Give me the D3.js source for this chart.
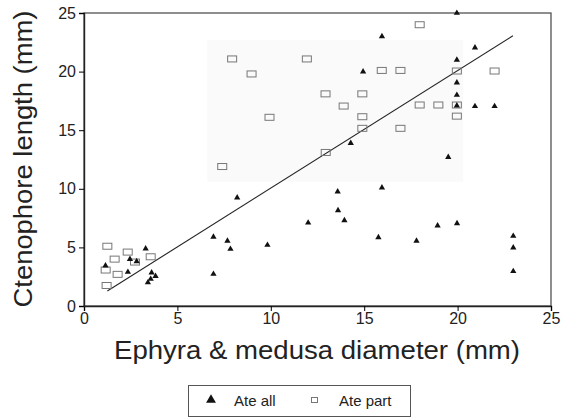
<!DOCTYPE html>
<html>
<head>
<meta charset="utf-8">
<script src="https://cdn.jsdelivr.net/npm/d3@7"></script>
<style>
  body { margin: 0; background: #fff; }
  svg { display: block; font-family: 'Liberation Sans', Arial, sans-serif; }
</style>
</head>
<body>
<svg id="chart"></svg>
<script>
// Ate all (filled triangles)
const ateAllX = [3.3, 2.46, 2.82, 1.15, 2.35, 3.62, 3.83, 3.57, 3.42,
  6.93, 7.68, 7.84, 6.93, 9.82, 8.2, 12.0,
  19.5, 13.58, 15.95, 13.6, 13.94, 15.76, 17.8, 18.93, 19.97, 22.98, 22.98, 22.98,
  14.94, 14.28, 19.96, 15.95, 20.93, 19.96, 19.96, 19.96, 19.96, 20.93, 21.98]
const ateAllY = [4.9, 4.0, 3.8, 3.45, 2.9, 2.85, 2.55, 2.3, 2.0,
  5.9, 5.55, 4.86, 2.73, 5.2, 9.24, 7.1,
  12.7, 9.75, 10.1, 8.16, 7.3, 5.86, 5.55, 6.85, 7.05, 5.97, 4.98, 2.96,
  20.0, 13.9, 25.0, 23.0, 22.04, 21.0, 19.05, 18.0, 17.1, 17.04, 17.04]

// Ate part (open squares)
const atePartX = [1.25, 1.64, 2.34, 1.16, 1.8, 1.21, 2.73, 3.57,
  7.4, 7.93, 8.97, 9.93, 11.93, 12.93, 13.9, 14.9, 14.9, 14.9, 12.94,
  17.97, 15.94, 16.94, 19.96, 21.98, 17.97, 18.97, 19.96, 19.96, 16.94]
const atePartY = [5.1, 4.0, 4.6, 3.07, 2.7, 1.75, 3.75, 4.2,
  11.9, 21.08, 19.8, 16.1, 21.08, 18.1, 17.06, 18.1, 16.15, 15.16, 13.1,
  24.0, 20.1, 20.1, 20.05, 20.05, 17.15, 17.15, 17.15, 16.2, 15.16]

// fitted regression line end points
const fitX = [1.25, 22.96]
const fitY = [1.28, 23.06]

const xTicks = [0, 5, 10, 15, 20, 25]
const yTicks = [0, 5, 10, 15, 20, 25]

const width = 566
const height = 418
const margin = { top: 13, right: 15, bottom: 112, left: 84 }

const svg = d3.select('#chart')
  .attr('width', width)
  .attr('height', height)

const x = d3.scaleLinear()
  .domain([0, 25])
  .range([margin.left, width - margin.right])

const y = d3.scaleLinear()
  .domain([0, 25])
  .range([height - margin.bottom, margin.top])

// faint scan shading behind upper cluster
svg.append('rect')
  .attr('x', x(6.6))
  .attr('y', y(22.7))
  .attr('width', x(20.3) - x(6.6))
  .attr('height', y(10.6) - y(22.7))
  .attr('fill', '#fafafa')

// frame
svg.append('rect')
  .attr('x', x(0))
  .attr('y', y(25))
  .attr('width', x(25) - x(0))
  .attr('height', y(0) - y(25))
  .attr('fill', 'none')
  .attr('stroke', '#444')
  .attr('stroke-width', 1.2)

const xAxis = svg.append('g')
  .attr('transform', `translate(0,${y(0)})`)
  .call(d3.axisBottom(x).tickValues(xTicks).tickSize(5).tickPadding(2))
xAxis.select('.domain').attr('stroke', '#222').attr('stroke-width', 1.4)
xAxis.selectAll('text').attr('font-size', '16px').attr('fill', '#222')
  .attr('font-family', "'Liberation Sans', Arial, sans-serif")

const yAxis = svg.append('g')
  .attr('transform', `translate(${x(0)},0)`)
  .call(d3.axisLeft(y).tickValues(yTicks).tickSize(5).tickPadding(3))
yAxis.select('.domain').attr('stroke', '#222').attr('stroke-width', 1.4)
yAxis.selectAll('text').attr('font-size', '16px').attr('fill', '#222')
  .attr('font-family', "'Liberation Sans', Arial, sans-serif")

// regression line
svg.append('line')
  .attr('x1', x(fitX[0]))
  .attr('y1', y(fitY[0]))
  .attr('x2', x(fitX[1]))
  .attr('y2', y(fitY[1]))
  .attr('stroke', '#222')
  .attr('stroke-width', 1.1)

const tri = d3.symbol().type(d3.symbolTriangle).size(17)

svg.append('g')
  .selectAll('rect')
  .data(atePartX.map((v, i) => ({ x: v, y: atePartY[i] })))
  .enter()
  .append('rect')
  .attr('x', d => x(d.x) - 4.5)
  .attr('y', d => y(d.y) - 3)
  .attr('width', 9)
  .attr('height', 6)
  .attr('fill', 'none')
  .attr('stroke', '#777')
  .attr('stroke-width', 1)

svg.append('g')
  .selectAll('path')
  .data(ateAllX.map((v, i) => ({ x: v, y: ateAllY[i] })))
  .enter()
  .append('path')
  .attr('d', tri)
  .attr('transform', d => `translate(${x(d.x)},${y(d.y)})`)
  .attr('fill', '#111')

// axis titles
svg.append('text')
  .attr('x', 317)
  .attr('y', 359)
  .attr('text-anchor', 'middle')
  .style('font-size', '26px')
  .attr('textLength', 406)
  .attr('lengthAdjust', 'spacingAndGlyphs')
  .attr('fill', '#222')
  .text('Ephyra & medusa diameter (mm)')

svg.append('text')
  .attr('transform', 'translate(32,159) rotate(-90)')
  .attr('text-anchor', 'middle')
  .style('font-size', '26px')
  .attr('textLength', 297)
  .attr('lengthAdjust', 'spacingAndGlyphs')
  .attr('fill', '#222')
  .text('Ctenophore length (mm)')

// legend
const legend = svg.append('g')
legend.append('rect')
  .attr('x', 188.5)
  .attr('y', 385.5)
  .attr('width', 222)
  .attr('height', 31)
  .attr('fill', '#fff')
  .attr('stroke', '#555')

legend.append('path')
  .attr('d', d3.symbol().type(d3.symbolTriangle).size(42))
  .attr('transform', 'translate(211,400)')
  .attr('fill', '#111')
legend.append('text')
  .attr('x', 234)
  .attr('y', 406)
  .style('font-size', '15px')
  .attr('fill', '#222')
  .text('Ate all')

legend.append('rect')
  .attr('x', 311.5)
  .attr('y', 397.5)
  .attr('width', 6)
  .attr('height', 5)
  .attr('fill', 'none')
  .attr('stroke', '#777')
legend.append('text')
  .attr('x', 339)
  .attr('y', 406)
  .style('font-size', '15px')
  .attr('fill', '#222')
  .text('Ate part')
</script>
</body>
</html>
